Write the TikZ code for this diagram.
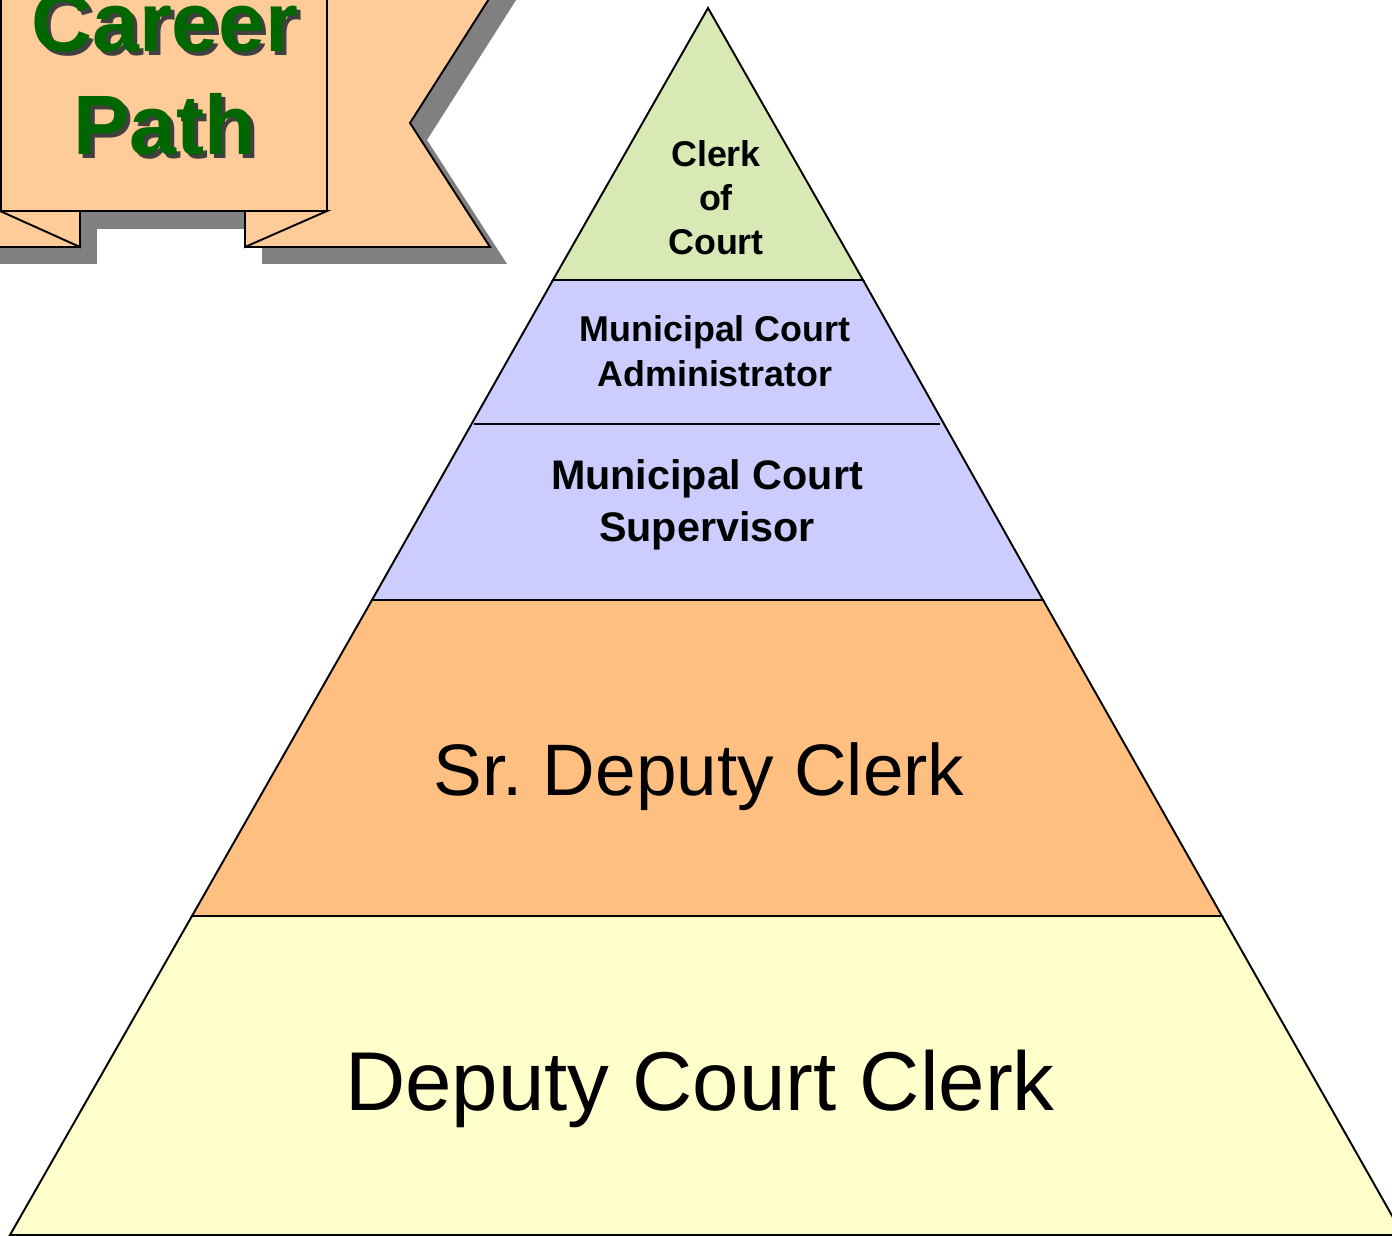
\documentclass[tikz,border=0pt]{standalone}
\usepackage{fontspec}
\setmainfont{Liberation Sans}
\usetikzlibrary{positioning}

\definecolor{peach}{HTML}{FFCC99}
\definecolor{pathgreen}{HTML}{006600}
\definecolor{topgreen}{HTML}{D8E9B5}
\definecolor{lilac}{HTML}{CCCCFF}
\definecolor{apricot}{HTML}{FFBF80}
\definecolor{cream}{HTML}{FFFFCC}

\begin{document}
\begin{tikzpicture}[x=0.02cm,y=-0.02cm,
  tier/.style={draw=black,line width=1.1pt,line join=miter},
  drop/.style={fill=black!50},
  flag/.style={fill=peach,draw=black,line width=1.1pt,line join=miter},
  boss/.style 2 args={font=\bfseries\fontsize{#1}{#2}\selectfont,align=center,inner sep=0pt},
  staff/.style={font=\fontsize{#1}{#1}\selectfont,inner sep=0pt,anchor=base}]
\useasboundingbox (0,0) rectangle (1392,1236);
\begin{scope}
\clip (0,0) rectangle (1392,1236);
% pyramid
\filldraw[tier,fill=cream] (192,916) -- (1222,916) -- (1403,1235) -- (10,1235) -- cycle;
\filldraw[tier,fill=apricot] (372,600) -- (1043,600) -- (1222,916) -- (192,916) -- cycle;
\filldraw[tier,fill=lilac] (553,280) -- (863,280) -- (1043,600) -- (372,600) -- cycle;
\draw[tier] (474,424) -- (940,424);
\filldraw[tier,fill=topgreen] (708,8) -- (863,280) -- (553,280) -- cycle;
\node[boss={20.4pt}{25pt}] (clerk) at (716,198) {Clerk\\of\\Court};
\node[boss={20.4pt}{25.5pt}] (admin) at (715,351) {Municipal Court\\Administrator};
\node[boss={23.5pt}{29.5pt}] (super) at (707,505) {Municipal Court\\Supervisor};
\node[staff=41.5pt] (senior) at (699,795) {Sr.\ Deputy Clerk};
\node[staff=47.5pt] (deputy) at (700,1110) {Deputy Court Clerk};
% banner
\fill[drop,shift={(17,17)}] (245,-20) -- (501,-20) -- (410,123) -- (490,247) -- (245,247) -- cycle;
\fill[drop,shift={(17,17)}] (-20,150) rectangle (80,247);
\fill[drop] (18,-20) rectangle (345,229);
\filldraw[flag] (245,-20) -- (501,-20) -- (410,123) -- (490,247) -- (245,247) -- cycle;
\filldraw[flag] (-20,150) rectangle (80,247);
\filldraw[flag] (0,211) -- (80,247) -- (80,211) -- cycle;
\filldraw[flag] (245,211) -- (245,247) -- (327,211) -- cycle;
\filldraw[flag] (1,-20) rectangle (327,211);
\node[boss={48pt}{59pt},text=black!75] (shadowtext) at (169,78) {Career\\Path};
\node[boss={48pt}{59pt},text=pathgreen] (career) at (165,74) {Career\\Path};
\end{scope}
\end{tikzpicture}
\end{document}
